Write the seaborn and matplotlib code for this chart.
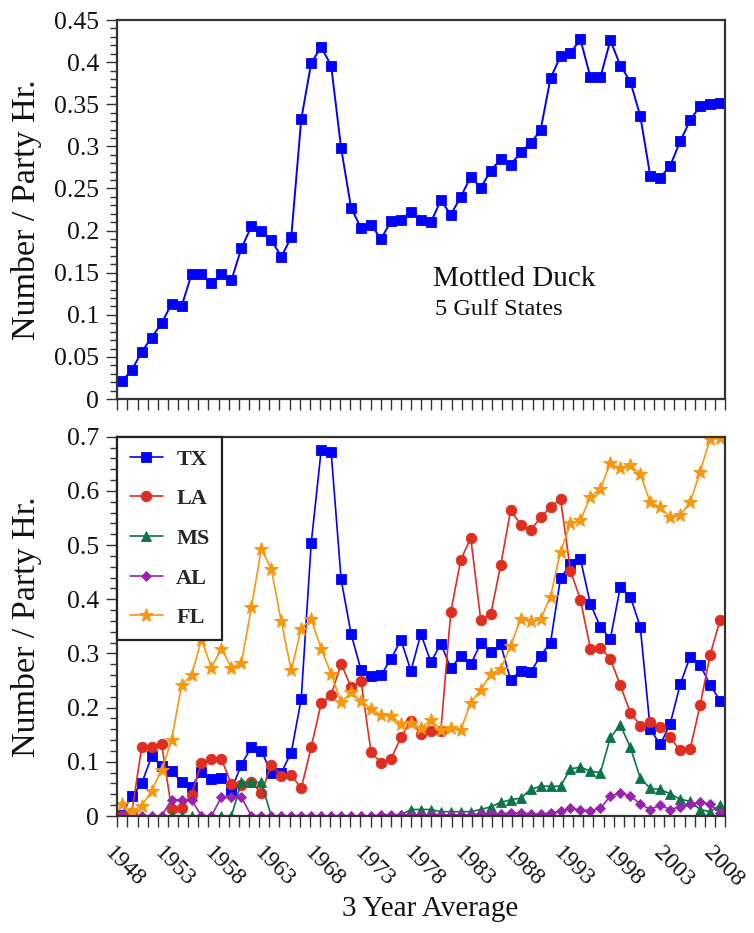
import numpy as np
import matplotlib
matplotlib.use("Agg")
import matplotlib.pyplot as plt
from matplotlib.ticker import FixedLocator, FuncFormatter
from matplotlib.transforms import ScaledTranslation
import seaborn as sns

# ---------------- data ----------------
years = [1948, 1949, 1950, 1951, 1952, 1953, 1954, 1955, 1956, 1957,
         1958, 1959, 1960, 1961, 1962, 1963, 1964, 1965, 1966, 1967,
         1968, 1969, 1970, 1971, 1972, 1973, 1974, 1975, 1976, 1977,
         1978, 1979, 1980, 1981, 1982, 1983, 1984, 1985, 1986, 1987,
         1988, 1989, 1990, 1991, 1992, 1993, 1994, 1995, 1996, 1997,
         1998, 1999, 2000, 2001, 2002, 2003, 2004, 2005, 2006, 2007, 2008]

gulf_total = [0.021, 0.034, 0.056, 0.073, 0.090, 0.113, 0.110, 0.148, 0.148, 0.138,
              0.148, 0.141, 0.179, 0.205, 0.199, 0.189, 0.169, 0.192, 0.332, 0.399,
              0.418, 0.396, 0.298, 0.227, 0.203, 0.207, 0.190, 0.211, 0.213, 0.222,
              0.213, 0.210, 0.236, 0.219, 0.240, 0.264, 0.251, 0.271, 0.285, 0.278,
              0.293, 0.304, 0.319, 0.381, 0.407, 0.411, 0.427, 0.382, 0.382, 0.426,
              0.396, 0.377, 0.336, 0.265, 0.263, 0.277, 0.306, 0.331, 0.348, 0.350, 0.351]

tx = [0.002, 0.037, 0.060, 0.110, 0.092, 0.083, 0.063, 0.054, 0.082, 0.068,
      0.071, 0.048, 0.095, 0.127, 0.120, 0.080, 0.080, 0.117, 0.216, 0.503,
      0.675, 0.672, 0.437, 0.336, 0.269, 0.258, 0.260, 0.290, 0.325, 0.268,
      0.336, 0.284, 0.318, 0.273, 0.295, 0.280, 0.319, 0.303, 0.317, 0.251,
      0.268, 0.265, 0.296, 0.320, 0.439, 0.465, 0.474, 0.391, 0.349, 0.327,
      0.423, 0.405, 0.349, 0.160, 0.132, 0.170, 0.243, 0.294, 0.279, 0.242, 0.213]

la = [0.000, 0.005, 0.127, 0.127, 0.133, 0.013, 0.014, 0.039, 0.098, 0.105,
      0.105, 0.059, 0.058, 0.062, 0.042, 0.095, 0.074, 0.076, 0.051, 0.127,
      0.208, 0.223, 0.281, 0.238, 0.249, 0.118, 0.098, 0.105, 0.145, 0.176,
      0.151, 0.157, 0.157, 0.377, 0.473, 0.513, 0.362, 0.372, 0.463, 0.564,
      0.538, 0.527, 0.551, 0.570, 0.585, 0.453, 0.399, 0.309, 0.311, 0.290,
      0.241, 0.191, 0.167, 0.173, 0.165, 0.145, 0.121, 0.124, 0.204, 0.297, 0.362]

ms_vals = [0.000, 0.000, 0.000, 0.000, 0.000, 0.000, 0.000, 0.000, 0.000, 0.000,
           0.000, 0.000, 0.062, 0.062, 0.062, 0.000, 0.000, 0.000, 0.000, 0.000,
           0.000, 0.000, 0.000, 0.000, 0.000, 0.000, 0.000, 0.000, 0.002, 0.012,
           0.012, 0.012, 0.008, 0.008, 0.008, 0.008, 0.012, 0.017, 0.025, 0.030,
           0.033, 0.049, 0.055, 0.055, 0.055, 0.087, 0.090, 0.083, 0.080, 0.145,
           0.168, 0.127, 0.070, 0.051, 0.049, 0.041, 0.031, 0.027, 0.012, 0.008, 0.020]

al = [0.000, 0.000, 0.000, 0.000, 0.000, 0.030, 0.030, 0.030, 0.000, 0.000,
      0.035, 0.035, 0.035, 0.000, 0.000, 0.000, 0.000, 0.000, 0.000, 0.000,
      0.000, 0.000, 0.000, 0.000, 0.000, 0.000, 0.002, 0.002, 0.002, 0.002,
      0.002, 0.002, 0.002, 0.002, 0.002, 0.002, 0.004, 0.004, 0.004, 0.005,
      0.005, 0.004, 0.004, 0.005, 0.009, 0.014, 0.011, 0.010, 0.014, 0.037,
      0.042, 0.037, 0.022, 0.012, 0.020, 0.012, 0.017, 0.023, 0.025, 0.022, 0.005]

fl = [0.023, 0.008, 0.019, 0.046, 0.085, 0.140, 0.241, 0.260, 0.325, 0.274,
      0.309, 0.274, 0.282, 0.385, 0.493, 0.456, 0.359, 0.269, 0.346, 0.363,
      0.309, 0.262, 0.210, 0.228, 0.213, 0.198, 0.186, 0.185, 0.170, 0.172,
      0.162, 0.178, 0.159, 0.162, 0.159, 0.209, 0.233, 0.262, 0.271, 0.314,
      0.364, 0.360, 0.363, 0.405, 0.488, 0.540, 0.546, 0.589, 0.604, 0.651,
      0.642, 0.647, 0.631, 0.579, 0.570, 0.551, 0.555, 0.579, 0.635, 0.696, 0.697]

state_names = ["TX", "LA", "MS", "AL", "FL"]
label_years = [1948, 1953, 1958, 1963, 1968, 1973, 1978, 1983, 1988, 1993, 1998, 2003, 2008]

# ---------------- style ----------------
sns.set_style("ticks")
plt.rcParams['font.family'] = ['Liberation Serif', 'DejaVu Serif']
SPINE = '#333333'
TXT = '#111111'

fig = plt.figure(figsize=(7.54, 9.33), dpi=100)
ax1 = fig.add_axes([0.1556, 0.5723, 0.806, 0.4062])
ax2 = fig.add_axes([0.1556, 0.1254, 0.806, 0.4065])

XMIN, XMAX = 1947.56, 2008.5
minor_x = np.linspace(XMIN, XMAX, 61)

# top panel
sns.lineplot(x=years, y=gulf_total, ax=ax1, color='#0000FF', marker='s',
             markersize=7.2, markeredgecolor='#0000FF', markeredgewidth=0.6,
             linewidth=1.4)

# bottom panel
styles = {
    "TX": dict(color='#0000FF', marker='s', markersize=7.2),
    "LA": dict(color='#DD2E1F', marker='o', markersize=7.6),
    "MS": dict(color='#0A7547', marker='^', markersize=7.6),
    "AL": dict(color='#9B22B0', marker='D', markersize=5.2),
    "FL": dict(color='#F7960F', marker='*', markersize=10),
}
series = {"TX": tx, "LA": la, "MS": ms_vals, "AL": al, "FL": fl}
for name in state_names:
    st = styles[name]
    sns.lineplot(x=years, y=series[name], ax=ax2, color=st['color'],
                 marker=st['marker'], markersize=st['markersize'],
                 markeredgecolor=st['color'], markeredgewidth=0.6,
                 linewidth=1.2, label=name)


def style_axes(ax, ymax, major_ticks, minor_ticks):
    ax.set_xlim(XMIN, XMAX)
    ax.set_ylim(0, ymax)
    for s in ax.spines.values():
        s.set_visible(True)
        s.set_linewidth(1.6)
        s.set_color(SPINE)
    ax.yaxis.set_major_locator(FixedLocator(major_ticks))
    ax.yaxis.set_minor_locator(FixedLocator(minor_ticks))
    ax.yaxis.set_major_formatter(FuncFormatter(lambda v, p: f"{v:g}"))
    ax.tick_params(axis='y', which='major', direction='out', length=8, width=1.0,
                   color=SPINE, labelsize=18.5, pad=5, right=False, labelcolor=TXT)
    ax.tick_params(axis='y', which='minor', direction='out', length=5, width=1.0,
                   color=SPINE, right=False)
    ax.xaxis.set_major_locator(FixedLocator(label_years))
    ax.xaxis.set_minor_locator(FixedLocator(minor_x))
    ax.tick_params(axis='x', which='major', length=0, labelsize=17, pad=19,
                   top=False, labelcolor=TXT)
    ax.tick_params(axis='x', which='minor', direction='out', length=8, width=1.0,
                   color=SPINE, top=False)
    ax.set_xlabel('')
    ax.set_ylabel('Number / Party Hr.', fontsize=24.5, color=TXT)
    ax.yaxis.set_label_coords(-0.124, 0.5)


style_axes(ax1, 0.45, np.round(np.arange(0, 0.451, 0.05), 2),
           np.round(np.arange(0, 0.451, 0.01), 2))
style_axes(ax2, 0.7, np.round(np.arange(0, 0.701, 0.1), 1),
           np.round(np.arange(0, 0.701, 0.02), 2))
ax1.tick_params(axis='x', which='both', labelbottom=False)

ax2.set_xlabel('3 Year Average', fontsize=21, color=TXT)
ax2.xaxis.set_label_coords(0.5146, -0.210)

# rotated year labels
offset = ScaledTranslation(-0.06, 0, fig.dpi_scale_trans)
ax2.get_xticklabels()
for t in ax2.xaxis.get_major_ticks():
    lab = t.label1
    lab.set_rotation(-45)
    lab.set_rotation_mode('anchor')
    lab.set_ha('left')
    lab.set_va('top')
    lab.set_transform(lab.get_transform() + offset)

# annotation in top panel
ax1.text(0.5195, 0.299, 'Mottled Duck', transform=ax1.transAxes, fontsize=21,
         ha='left', va='baseline', color=TXT)
ax1.text(0.523, 0.2216, '5 Gulf States', transform=ax1.transAxes, fontsize=17.5,
         ha='left', va='baseline', color=TXT)

# legend
handles, labels = ax2.get_legend_handles_labels()
if ax2.get_legend() is not None:
    ax2.get_legend().remove()
leg = ax2.legend(handles, labels, loc='upper left', bbox_to_anchor=(0, 1),
                 borderaxespad=0, frameon=True, fancybox=False, framealpha=1,
                 edgecolor='#222222',
                 prop={'family': 'Liberation Serif', 'weight': 'bold', 'size': 16},
                 handlelength=1.5, handletextpad=0.6, labelspacing=0.86,
                 borderpad=0.55)
leg.get_frame().set_linewidth(1.6)

fig.savefig('out.png', dpi=100)
